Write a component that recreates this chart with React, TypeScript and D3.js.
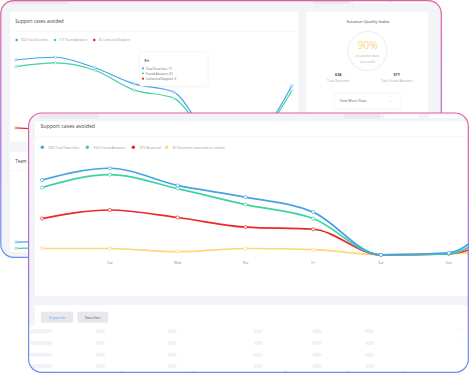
import React from "react";
import * as d3 from "d3";

// ---------- data ----------
const dayIndex = [0, 1, 2, 3, 4, 5, 6, 7];
const frontTickLabels = ["Tue", "Wed", "Thu", "Fri", "Sat", "Sun"];
const frontTotalSearches = [71, 82, 66, 55, 41, 1, 3, 68];
const frontFoundAnswers = [64, 76, 63, 48, 35, 1, 2, 52];
const frontBounced = [35, 43, 36, 27, 25, 1, 2, 30];
const frontNoResults = [7, 7, 4, 7, 6, 1, 2, 6];
const frontLegend = ["599 Total Searches", "554 Found Answers", "375 Bounced", "81 Searches returned no results"];

const backTotalSearches = [123, 127, 110, 84, 71, 1, 2, 81];
const backFoundAnswers = [112, 118, 106, 74, 61, 1, 1, 73];
const backContacted = [13, 10, 8, 6, 5, 0, 0, 4];
const backLegend = ["634 Total Searches", "571 Found Answers", "36 Contacted Support"];
const tooltipTitle = "Fri";
const tooltipLines = ["Total Searches: 71", "Found Answers: 61", "Contacted Support: 5"];

const teamSearches = [16, 17];
const teamAnswers = [6, 7];

const qualityPct = "90%";
const qualityStats = [{ v: "634", l: "Total Searches" }, { v: "571", l: "Total Found Answers" }];
const tableBottomTexts = ["vabcde", "12", "12", "45", "24", "3"];

// ---------- style ----------
const BLUE = "#46a4e6";
const GREEN = "#3fd2a2";
const RED = "#e8282e";
const YELLOW = "#fdd878";
const FONT = "'Open Sans', 'Noto Sans', sans-serif";
const BG = "#f3f4f8";

export default function App() {
  // front chart scales
  const fx = d3.scaleLinear().domain([0, 7]).range([42, 42 + 7 * 67.8]);
  const fy = d3.scaleLinear().domain([0, 100]).range([256, 149]);
  const fLine = (vals: number[]) =>
    d3.line<number>().x((_, i) => fx(dayIndex[i])).y((d) => fy(d)).curve(d3.curveMonotoneX)(vals) || "";
  const frontSeries = [
    { vals: frontTotalSearches, c: BLUE },
    { vals: frontFoundAnswers, c: GREEN },
    { vals: frontBounced, c: RED },
    { vals: frontNoResults, c: YELLOW },
  ];
  // back chart scales
  const bx = d3.scaleLinear().domain([0, 7]).range([16, 16 + 7 * 39.4]);
  const by = d3.scaleLinear().domain([0, 100]).range([136, 74]);
  const bLine = (vals: number[]) =>
    d3.line<number>().x((_, i) => bx(dayIndex[i])).y((d) => by(d)).curve(d3.curveMonotoneX)(vals) || "";
  const backSeries = [
    { vals: backContacted, c: RED },
    { vals: backFoundAnswers, c: GREEN },
    { vals: backTotalSearches, c: BLUE },
  ];
  const ty = d3.scaleLinear().domain([0, 100]).range([252, 190]);
  const tLine = (vals: number[]) =>
    d3.line<number>().x((_, i) => bx(dayIndex[i])).y((d) => ty(d)).curve(d3.curveMonotoneX)(vals) || "";

  const frontLegendX = [42.3, 87.3, 133.3, 166.7];
  const frontLegendC = [BLUE, GREEN, RED, YELLOW];
  const backLegendX = [16.7, 55, 94.3];
  const backLegendC = [BLUE, GREEN, RED];

  const rowYs = [329.3, 341, 352.7, 364.3];
  const rowXs = [[30, 22], [96, 9], [167.3, 9.5], [253.3, 9.5], [312.3, 9.5], [365, 9.5]];
  const bottomTextX = [41, 119, 190.7, 283.3, 345.7, 401.7];

  return (
    <svg width={470} height={375} style={{ position: "absolute", left: 0, top: 0, background: "#fff" }} fontFamily={FONT}>
      <defs>
        <linearGradient id="gBorder" x1="0" y1="0" x2="0" y2="1">
          <stop offset="0" stopColor="#e35c9c" />
          <stop offset="0.35" stopColor="#b968cf" />
          <stop offset="0.65" stopColor="#9474e6" />
          <stop offset="1" stopColor="#6a8ff2" />
        </linearGradient>
        <clipPath id="backCard">
          <rect x={0.8} y={0} width={440.5} height={257.3} rx={13} />
        </clipPath>
        <clipPath id="backPanel">
          <rect x={10} y={11.7} width={288.5} height={130} />
        </clipPath>
        <clipPath id="teamPanel">
          <rect x={10} y={151.7} width={100} height={100.3} />
        </clipPath>
        <clipPath id="frontCard">
          <rect x={28.6} y={113} width={439.7} height={259.3} rx={13} />
        </clipPath>
        <clipPath id="frontPanel">
          <rect x={35} y={121.5} width={440} height={174.5} />
        </clipPath>
        <filter id="shadow" x="-20%" y="-20%" width="140%" height="140%">
          <feDropShadow dx="0" dy="0.5" stdDeviation="1" floodColor="#000" floodOpacity="0.06" />
        </filter>
      </defs>

      {/* ================= BACK CARD ================= */}
      <g clipPath="url(#backCard)">
        <rect x={0} y={0} width={442} height={258} fill={BG} />
        <rect x={10} y={0} width={58.3} height={4} rx={1.5} fill="#e8e9ee" />
        <rect x={313.3} y={0} width={36.7} height={4} rx={1.5} fill="#e8e9ee" />
        <rect x={352.7} y={-1} width={36.3} height={5} rx={1.5} fill="#fff" stroke="#eceef2" strokeWidth={0.5} />
        <rect x={391.7} y={-1} width={36} height={5} rx={1.5} fill="#fff" stroke="#eceef2" strokeWidth={0.5} />

        {/* main panel */}
        <rect x={10} y={11.7} width={288.5} height={130} fill="#fff" />
        <text x={15.3} y={23} fontSize={4.6} fill="#444">Support cases avoided</text>
        <line x1={10} x2={298.5} y1={31.7} y2={31.7} stroke="#f0f1f4" strokeWidth={0.6} />
        {backLegend.map((t, i) => (
          <g key={t}>
            <circle cx={backLegendX[i]} cy={40} r={1.3} fill={backLegendC[i]} />
            <text x={backLegendX[i] + 4.3} y={41.1} fontSize={3.1} fill="#999">{t}</text>
          </g>
        ))}
        <g clipPath="url(#backPanel)">
          {backSeries.map((s) => (
            <g key={s.c}>
              <path d={bLine(s.vals)} fill="none" stroke={s.c} strokeWidth={1.2} />
              {s.vals.map((v, i) => (
                <circle key={i} cx={bx(dayIndex[i])} cy={by(v)} r={1.2} fill="#fff" stroke={s.c} strokeWidth={0.5} />
              ))}
            </g>
          ))}
        </g>
        {/* tooltip */}
        <g filter="url(#shadow)">
          <rect x={139.5} y={51.7} width={68.5} height={34.3} rx={2} fill="#fff" stroke="#eceef2" strokeWidth={0.5} />
        </g>
        <text x={144.5} y={62.3} fontSize={3.4} fontWeight={700} fill="#444">{tooltipTitle}</text>
        {tooltipLines.map((t, i) => (
          <g key={t}>
            <circle cx={143} cy={68.3 + i * 5.2} r={1.1} fill={backLegendC[i]} />
            <text x={145.8} y={69.5 + i * 5.2} fontSize={3.1} fill="#666">{t}</text>
          </g>
        ))}

        {/* quality panel */}
        <rect x={306.7} y={11.7} width={121.6} height={130} fill="#fff" />
        <text x={368} y={23.2} fontSize={4.2} textAnchor="middle" fill="#444">Solution Quality Index</text>
        <circle cx={367.5} cy={51} r={19.5} fill="none" stroke="#efefef" strokeWidth={1.1} />
        <text x={367.5} y={49.3} fontSize={10.5} textAnchor="middle" fill="#fdd47a">{qualityPct}</text>
        <text x={367.5} y={57.3} fontSize={3.1} textAnchor="middle" fill="#aaa">of searches were</text>
        <text x={367.5} y={62.5} fontSize={3.1} textAnchor="middle" fill="#aaa">successful</text>
        {qualityStats.map((s, i) => (
          <g key={s.l}>
            <text x={338.3 + i * 58.4} y={76} fontSize={3.8} fontWeight={700} textAnchor="middle" fill="#444">{s.v}</text>
            <text x={338.3 + i * 58.4} y={81.6} fontSize={3.3} textAnchor="middle" fill="#aaa">{s.l}</text>
          </g>
        ))}
        <rect x={334.3} y={93.3} width={66.7} height={16} rx={2} fill="#fff" stroke="#eceef1" strokeWidth={0.6} />
        <text x={339.7} y={102} fontSize={3.6} fill="#666">View More Data</text>
        <text x={388} y={102} fontSize={4} fill="#c8c8c8">→</text>

        {/* team panel */}
        <rect x={10} y={151.7} width={120} height={100.3} fill="#fff" />
        <text x={15.3} y={162.6} fontSize={4.4} fill="#444">Team</text>
        <line x1={10} x2={130} y1={170.3} y2={170.3} stroke="#f0f1f4" strokeWidth={0.6} />
        <g clipPath="url(#teamPanel)">
          {[{ v: teamSearches, c: BLUE }, { v: teamAnswers, c: GREEN }].map((s) => (
            <g key={s.c}>
              <path d={tLine(s.v)} fill="none" stroke={s.c} strokeWidth={1.2} />
              <circle cx={bx(0)} cy={ty(s.v[0])} r={1.2} fill="#fff" stroke={s.c} strokeWidth={0.5} />
            </g>
          ))}
        </g>
      </g>
      <rect x={0.8} y={0.6} width={440.5} height={256.7} rx={13} fill="none" stroke="url(#gBorder)" strokeWidth={1.2} />

      {/* ================= FRONT CARD ================= */}
      <g clipPath="url(#frontCard)">
        <rect x={28} y={112} width={442} height={262} fill={BG} />
        <rect x={40} y={113.5} width={59} height={5} rx={1.5} fill="#e8e9ee" />
        <rect x={344} y={113.5} width={36} height={5} rx={1.5} fill="#e8e9ee" />
        <rect x={384} y={113.5} width={35} height={5} rx={1.5} fill="#fff" stroke="#eceef2" strokeWidth={0.5} />
        <rect x={428.3} y={113.5} width={30} height={5} rx={1.5} fill="#fff" stroke="#eceef2" strokeWidth={0.5} />

        <rect x={35} y={121.5} width={440} height={174.5} fill="#fff" />
        <text x={40.5} y={127.6} fontSize={5.2} fill="#444">Support cases avoided</text>
        <line x1={35} x2={470} y1={136.7} y2={136.7} stroke="#f0f1f4" strokeWidth={0.6} />
        {frontLegend.map((t, i) => (
          <g key={t}>
            <circle cx={frontLegendX[i]} cy={147.3} r={1.7} fill={frontLegendC[i]} />
            <text x={frontLegendX[i] + 6} y={148.6} fontSize={3.5} fill="#9a9a9a">{t}</text>
          </g>
        ))}
        <g clipPath="url(#frontPanel)">
          {frontSeries.slice().reverse().map((s) => (
            <g key={s.c}>
              <path d={fLine(s.vals)} fill="none" stroke={s.c} strokeWidth={1.7} />
              {s.vals.map((v, i) => (
                <circle key={i} cx={fx(dayIndex[i])} cy={fy(v)} r={1.6} fill="#fff" stroke={s.c} strokeWidth={0.7} />
              ))}
            </g>
          ))}
          {frontTickLabels.map((t, i) => (
            <text key={t} x={fx(dayIndex[i + 1])} y={263.5} fontSize={3.3} textAnchor="middle" fill="#888">{t}</text>
          ))}
        </g>

        {/* lower panel */}
        <rect x={35} y={305} width={440} height={70} fill="#fff" />
        <rect x={28} y={325} width={442} height={50} fill="#fff" opacity={0.92} />
        <rect x={41} y={311.7} width={32.3} height={11} rx={2} fill="#e6e8ec" />
        <text x={57.2} y={318.6} fontSize={3.6} textAnchor="middle" fill="#56aee8">Keywords</text>
        <rect x={77.3} y={311.7} width={31} height={11} rx={2} fill="#e6e8ec" />
        <text x={92.8} y={318.6} fontSize={3.6} textAnchor="middle" fill="#555">Searches</text>
        {rowYs.map((y) =>
          rowXs.map(([x, w], j) => (
            <rect key={`${y}-${j}`} x={x} y={y} width={w} height={4} rx={2} fill="#f1f2f5" />
          ))
        )}
        <line x1={457} x2={470} y1={329.3} y2={329.3} stroke="#eef0f3" strokeWidth={0.5} />
        <line x1={457} x2={470} y1={341} y2={341} stroke="#eef0f3" strokeWidth={0.5} />
        {tableBottomTexts.map((t, i) => (
          <text key={i} x={bottomTextX[i]} y={373.5} fontSize={3.5} fill="#9a9a9a">{t}</text>
        ))}
      </g>
      <rect x={28.6} y={113} width={439.7} height={259.3} rx={13} fill="none" stroke="url(#gBorder)" strokeWidth={1.2} />
    </svg>
  );
}
